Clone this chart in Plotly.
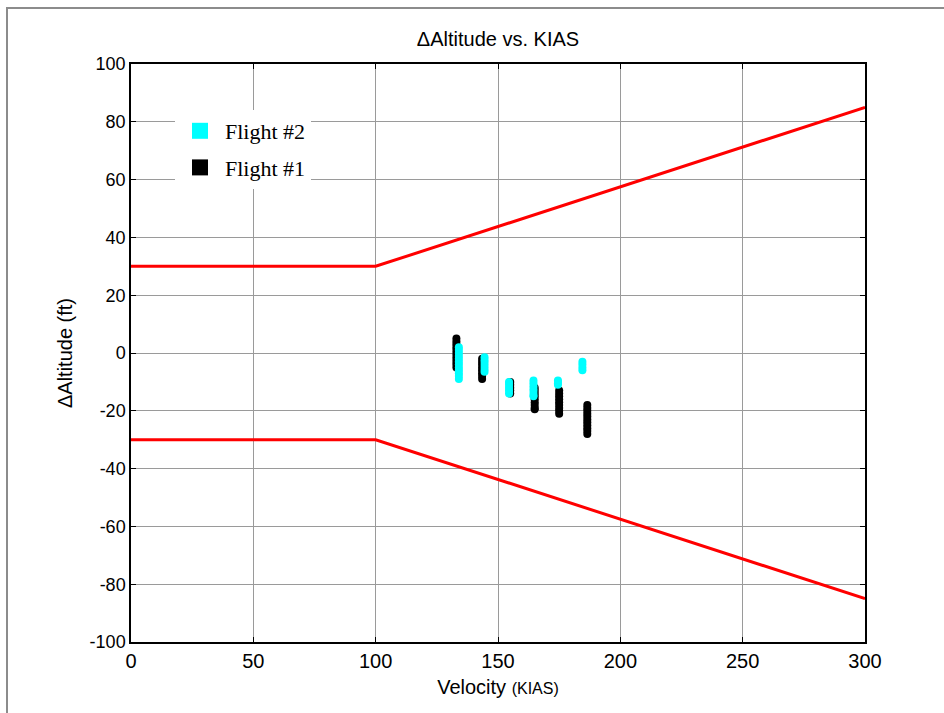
import plotly.graph_objects as go

# ---- data ----
limit_speed = [0, 100, 300]
limit_upper = [30, 30, 85]
limit_lower = [-30, -30, -85]

flight1_speeds = [133, 143.5, 155, 165, 175, 186.5]
flight1_alts = [
    [5, 4, 3, 2, 1, 0, -1, -2, -3, -4, -5],
    [-2, -3, -4, -5, -6, -7, -8, -9],
    [-10, -11, -12, -13, -14],
    [-12, -13, -14, -15, -16, -17, -18, -19, -19.5],
    [-13, -14, -15, -16, -17, -18, -19, -20, -21],
    [-18, -19, -20, -21, -22, -23, -24, -25, -26, -27, -28],
]

flight2_speeds = [134, 144.5, 154.5, 164.5, 174.5, 184.5]
flight2_alts = [
    [2, 1, 0, -1, -2, -3, -4, -5, -6, -7, -8, -9],
    [-1.5, -2.5, -3.5, -4.5, -5.5, -6.5],
    [-10, -11, -12, -13, -14],
    [-9.5, -10.5, -11.5, -12.5, -13.5, -14.5, -15],
    [-9.5, -10, -10.5, -11],
    [-3, -4, -5, -6],
]

x_ticks = [0, 50, 100, 150, 200, 250, 300]
x_tick_labels = ["0", "50", "100", "150", "200", "250", "300"]
y_ticks = [-100, -80, -60, -40, -20, 0, 20, 40, 60, 80, 100]
y_tick_labels = ["-100", "-80", "-60", "-40", "-20", "0", "20", "40", "60", "80", "100"]


def flatten(speeds, alts):
    xs, ys = [], []
    for s, a in zip(speeds, alts):
        for v in a:
            xs.append(s)
            ys.append(v)
    return xs, ys


f1x, f1y = flatten(flight1_speeds, flight1_alts)
f2x, f2y = flatten(flight2_speeds, flight2_alts)

fig = go.Figure()

fig.add_trace(go.Scatter(x=limit_speed, y=limit_upper, mode="lines",
                         line=dict(color="#ff0000", width=3), showlegend=False))
fig.add_trace(go.Scatter(x=limit_speed, y=limit_lower, mode="lines",
                         line=dict(color="#ff0000", width=3), showlegend=False))

fig.add_trace(go.Scatter(x=f1x, y=f1y, mode="markers",
                         marker=dict(color="#000000", size=8), showlegend=False))
fig.add_trace(go.Scatter(x=f2x, y=f2y, mode="markers",
                         marker=dict(color="#00ffff", size=8), showlegend=False))

# legend entries (square symbols)
fig.add_trace(go.Scatter(x=[None], y=[None], mode="markers", name="Flight #2",
                         legendgroup="g2",
                         marker=dict(color="#00ffff", size=16, symbol="square")))
fig.add_trace(go.Scatter(x=[None], y=[None], mode="markers", name="Flight #1",
                         legendgroup="g1",
                         marker=dict(color="#000000", size=16, symbol="square")))

ml, mr, mt, mb = 131, 79, 64, 71
W, H = 944, 713
pw, ph = W - ml - mr, H - mt - mb

fig.add_shape(type="rect", xref="paper", yref="paper",
              x0=(7 - ml) / pw, x1=2.0, y0=-1.0, y1=(H - mb - 8) / ph,
              line=dict(color="#8c8c8c", width=2), fillcolor="rgba(0,0,0,0)",
              layer="below")

axis_common = dict(
    showline=True, linecolor="black", linewidth=1.5, mirror="all",
    ticks="inside", ticklen=5, tickcolor="black", tickwidth=1,
    showgrid=True, gridcolor="#9a9a9a", gridwidth=1, zeroline=False,
)

fig.update_xaxes(range=[0, 300], tickvals=x_ticks, ticktext=x_tick_labels,
                 tickfont=dict(family="Liberation Sans, Arial", size=20, color="black"),
                 title=dict(text="Velocity <span style='font-size:16px'>(KIAS)</span>",
                            font=dict(family="Liberation Sans, Arial", size=20, color="black"),
                            standoff=9),
                 **axis_common)
fig.update_yaxes(range=[-100, 100], tickvals=y_ticks, ticktext=y_tick_labels,
                 tickfont=dict(family="Liberation Sans, Arial", size=18, color="black"),
                 title=dict(text="ΔAltitude (ft)",
                            font=dict(family="Liberation Sans, Arial", size=20, color="black"),
                            standoff=12),
                 **axis_common)

fig.update_layout(
    width=W, height=H,
    margin=dict(l=ml, r=mr, t=mt, b=mb),
    paper_bgcolor="white", plot_bgcolor="white",
    title=dict(text="ΔAltitude vs. KIAS", x=0.5, xref="paper",
               y=1 - 39 / H, yref="container", yanchor="middle", xanchor="center",
               font=dict(family="Liberation Sans, Arial", size=20, color="black")),
    legend=dict(x=(175 - ml) / pw, y=(H - mb - 110) / ph, xanchor="left", yanchor="top",
                bgcolor="white", borderwidth=0, itemwidth=40,
                font=dict(family="Liberation Serif, Times New Roman", size=22, color="black"),
                traceorder="grouped", tracegroupgap=5),
)

fig.write_html("out.html")
